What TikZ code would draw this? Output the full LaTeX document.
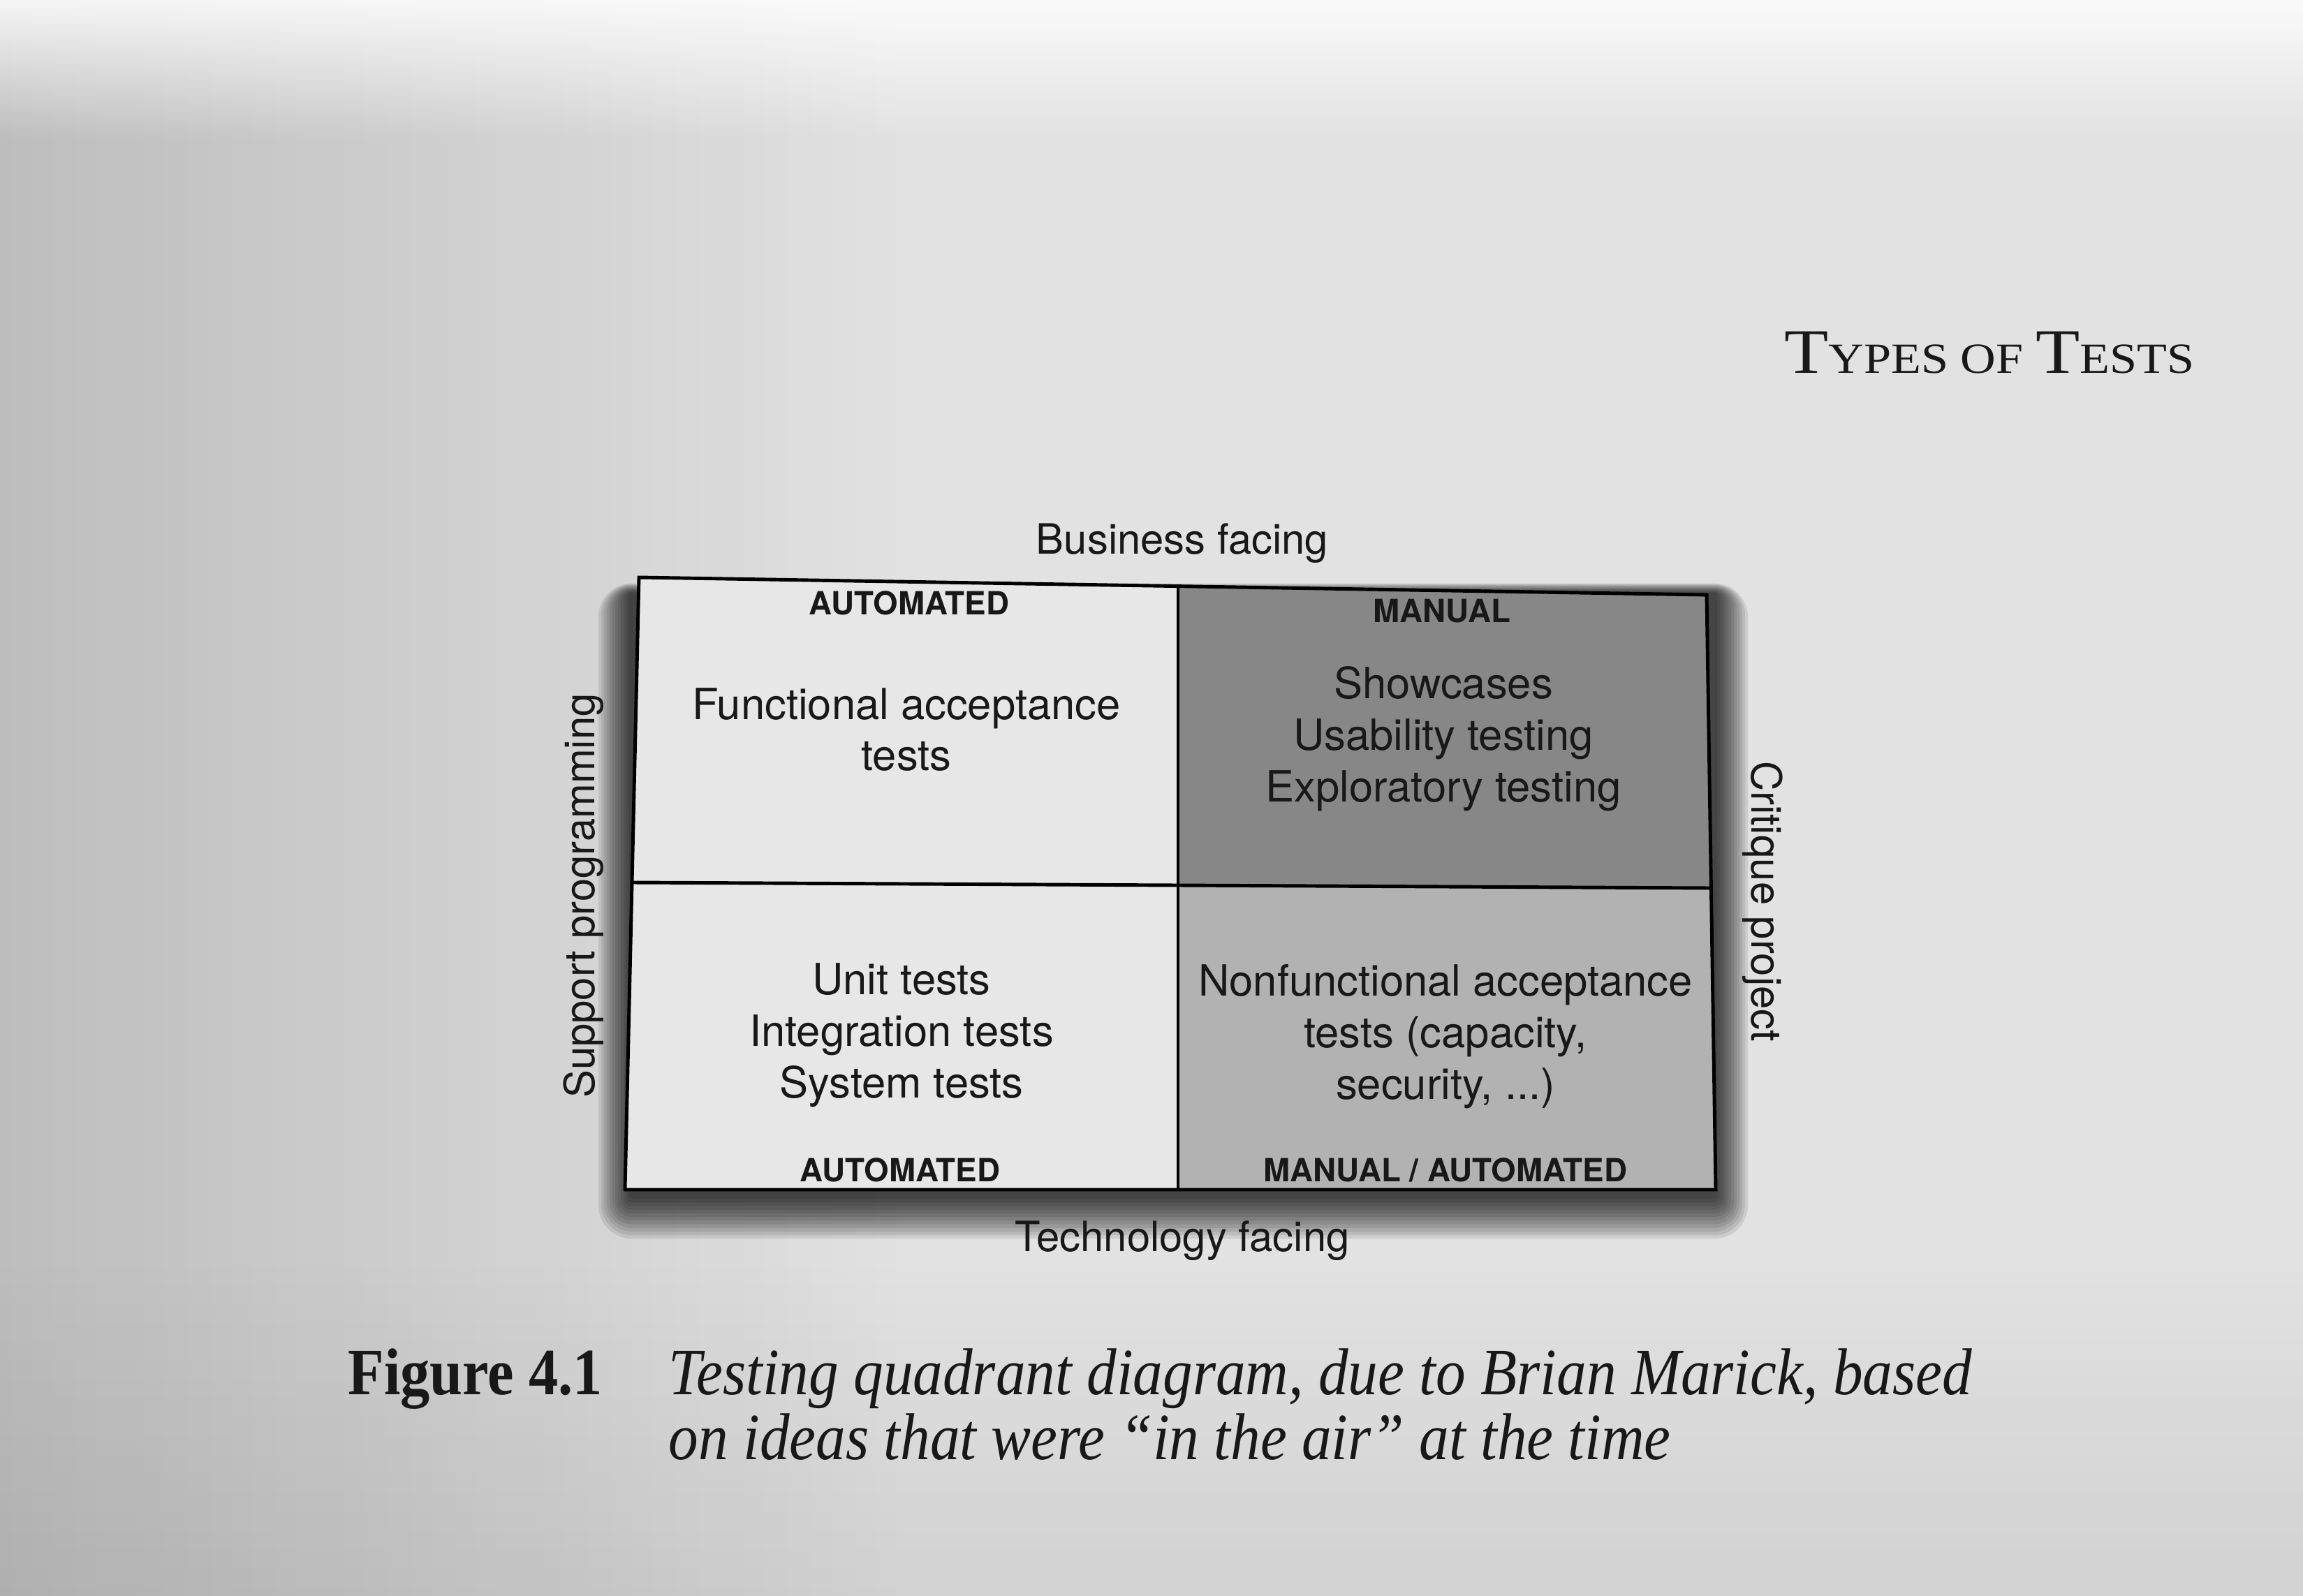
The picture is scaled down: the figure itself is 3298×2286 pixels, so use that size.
\documentclass[tikz,border=0pt]{standalone}
\usepackage{fontspec}
\usepackage{graphicx}
\setmainfont{Liberation Serif}
\newfontfamily\diagfont{TeX Gyre Heros}
\usetikzlibrary{calc,fadings}

\definecolor{paper}{HTML}{E2E2E2}
\definecolor{quadlight}{HTML}{E7E7E7}
\definecolor{quaddark}{HTML}{878787}
\definecolor{quadmid}{HTML}{B2B2B2}
\definecolor{ink}{HTML}{181818}

% fadings used for the lighting of the page
\tikzfading[name=opaqueleft, left color=transparent!0, right color=transparent!100]
\tikzfading[name=opaquetop, top color=transparent!0, bottom color=transparent!100]
\tikzfading[name=opaquebottom, top color=transparent!100, bottom color=transparent!0]

\begin{document}
\begin{tikzpicture}[x=0.01cm,y=-0.01cm,
  axislabel/.style={font=\diagfont\fontsize{17}{20}\selectfont, inner sep=0pt, text=ink},
  quadtext/.style={font=\diagfont\fontsize{17.5}{21}\selectfont, align=center, inner sep=0pt, text=ink},
  modelabel/.style={font=\diagfont\bfseries\fontsize{13}{15}\selectfont, inner sep=0pt, text=ink},
  gridline/.style={line width=1.4pt, draw=black, line join=miter},
  captext/.style={font=\fontsize{24.5}{29}\selectfont, inner sep=0pt, anchor=base west, text=ink},
]
\useasboundingbox (0,0) rectangle (3298,2286);

% page background
\fill[paper] (0,0) rectangle (3298,2286);
\fill[black, opacity=0.16, path fading=opaqueleft] (0,0) rectangle (1300,2286);
\fill[black, opacity=0.07, path fading=opaquebottom] (0,1800) rectangle (3298,2286);
\fill[white, opacity=0.85, path fading=opaquetop] (0,0) rectangle (3298,200);

% running head
\node[anchor=base west, inner sep=0pt, text=ink] (head) at (2555,535)
  {\scalebox{1.14}[1]{\fontsize{25.8}{30}\selectfont T{\fontsize{17.5}{20}\selectfont YPES OF }T{\fontsize{17.5}{20}\selectfont ESTS}}};

% quadrant corners
\coordinate (tl) at (915,827);
\coordinate (tm) at (1687,839);
\coordinate (tr) at (2444,852);
\coordinate (ml) at (905,1264);
\coordinate (mc) at (1687,1268);
\coordinate (mr) at (2450,1272);
\coordinate (bl) at (895,1704);
\coordinate (bm) at (1687,1704);
\coordinate (br) at (2457,1704);

% soft drop shadow, heavier below the frame
\foreach \k in {1,...,12}{
  \pgfmathsetmacro{\e}{4*\k}
  \fill[black, opacity=0.09, rounded corners=\e*0.01cm]
    (905-\e, 850-0.3*\e) rectangle (2455+\e, 1712+1.3*\e);
}

% quadrant fills
\fill[quadlight] (tl) -- (tm) -- (mc) -- (ml) -- cycle;
\fill[quaddark] (tm) -- (tr) -- (mr) -- (mc) -- cycle;
\fill[quadlight] (ml) -- (mc) -- (bm) -- (bl) -- cycle;
\fill[quadmid] (mc) -- (mr) -- (br) -- (bm) -- cycle;

% frame and dividers
\draw[gridline] (tl) -- (tr) -- (br) -- (bl) -- cycle;
\draw[gridline] (tm) -- (bm);
\draw[gridline] (ml) -- (mc) -- (mr);

% axis labels
\node[axislabel] (business) at (1693,778) {Business facing};
\node[axislabel] (technology) at (1693,1777) {Technology facing};
\node[axislabel, rotate=90] (support) at (836,1283) {Support programming};
\node[axislabel, rotate=-90] (critique) at (2524,1291) {Critique project};

% quadrant contents
\node[modelabel] (autotop) at (1302,864) {AUTOMATED};
\node[modelabel] (manualtop) at (2065,875) {MANUAL};
\node[modelabel] (autobottom) at (1289,1676) {AUTOMATED};
\node[modelabel] (mixbottom) at (2070,1676) {MANUAL / AUTOMATED};

\node[quadtext] (functional) at (1298,1045) {Functional acceptance\\tests};
\node[quadtext] (showcases) at (2067,1058) {Showcases\\Usability testing\\Exploratory testing};
\node[quadtext] (unit) at (1291,1483) {Unit tests\\Integration tests\\System tests};
\node[quadtext] (nonfunctional) at (2070,1485) {Nonfunctional acceptance\\tests (capacity,\\security, ...)};

% caption
\node[captext] (figno) at (498,1997) {\scalebox{0.98}[1.1]{\bfseries Figure 4.1}};
\node[captext] (capone) at (957,1997) {\scalebox{0.99}[1.1]{\itshape Testing quadrant diagram, due to Brian Marick, based}};
\node[captext] (captwo) at (957,2090) {\scalebox{0.99}[1.1]{\itshape on ideas that were “in the air” at the time}};
\end{tikzpicture}
\end{document}
